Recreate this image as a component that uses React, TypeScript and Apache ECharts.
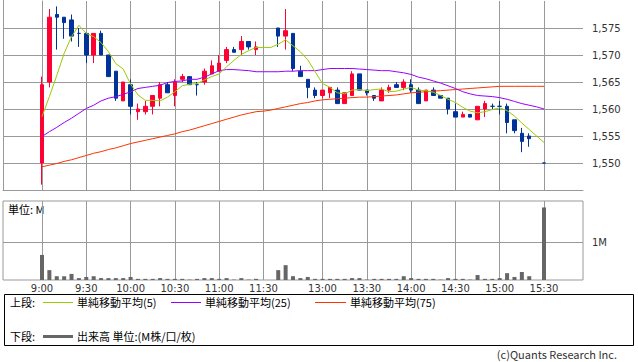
import React, { useEffect, useRef } from "react";
import * as echarts from "echarts";

const times = [
  "9:00","9:05","9:10","9:15","9:20","9:25","9:30","9:35","9:40","9:45",
  "9:50","9:55","10:00","10:05","10:10","10:15","10:20","10:25","10:30","10:35",
  "10:40","10:45","10:50","10:55","11:00","11:05","11:10","11:15","11:20","11:25",
  "11:30","",
  "12:30","12:35","12:40","12:45","12:50","12:55","13:00","13:05",
  "13:10","13:15","13:20","13:25","13:30","13:35","13:40","13:45","13:50","13:55",
  "14:00","14:05","14:10","14:15","14:20","14:25","14:30","14:35","14:40","14:45",
  "14:50","14:55","15:00","15:05","15:10","15:15","15:20","15:25","15:30",
];

const timeTicks = ["9:00","9:30","10:00","10:30","11:00","11:30","13:00","13:30","14:00","14:30","15:00","15:30"];
const priceTicks = [1550, 1555, 1560, 1565, 1570, 1575];
const volumeTicks = [1];

const open = [
  1550,1565,1577.5,1577,1576.5,1574,1574,1570,1574,1570,
  1567,1561.5,1564.5,1559.5,1559.5,1560.5,1562,1564.5,1562.5,1565.5,
  1566,1564.5,1565,1566.5,1567,1569,1571,1571,1572.5,1571,
  null,null,
  1575,1573.5,1574,1567,1565.5,1563.5,1562.5,1563,
  1563.5,1561,1562.5,1566.5,1563.5,1562.5,1561.5,1563.5,1564.5,1564,
  1564.5,1563.5,1561.5,1563.5,1562.5,1562,1559.5,1558.5,1559,1558,
  1560,1560.5,1560.5,1560.5,1558,1555.5,1555,null,1550,
];
const close = [
  1564.5,1577,1577,1576,1573.5,1574,1570,1574,1570,1566,
  1562,1565,1560.5,1560,1560.5,1562.5,1564.5,1563,1565,1566,
  1564.5,1564.5,1567,1568,1568.5,1571,1570.5,1572.5,1571.5,1571.5,
  null,null,
  1573.5,1574.5,1567.5,1566,1564,1562.5,1563.5,1564,
  1561,1563,1566.5,1563.5,1563,1562,1563.5,1564,1564,1565,
  1563.5,1561,1563.5,1562.5,1562,1560,1558.5,1559,1558.5,1560.5,
  1561,1560.5,1560.5,1557.5,1556,1554,1554.5,null,1550,
];
const low = [
  1546,1564,1571,1573,1572.5,1571.5,1568.5,1568.5,1570,1566,
  1561.5,1561.5,1559,1558,1559,1559,1560.5,1563,1560.5,1565,
  1564.5,1562.5,1564.5,1566.5,1567,1568.5,1570.5,1570,1571,1570,
  null,null,
  1571.5,1571,1567,1566,1562,1562,1562,1562,
  1561,1561,1562.5,1563.5,1562.5,1561.5,1561.5,1563,1564,1563.5,
  1563,1561,1561.5,1562.5,1562,1559,1558.5,1558.5,1558.5,1558,
  1558.5,1560,1559,1555.5,1555.5,1552,1553,null,1550,
];
const high = [
  1566,1578.5,1579,1577,1577.5,1575,1574,1574,1574.5,1570,
  1567,1565,1565.5,1561,1561.5,1562.5,1565,1565,1565.5,1566.5,
  1566,1565,1567.5,1569,1570,1571.5,1571.5,1573.5,1572.5,1572.5,
  null,null,
  1575,1578.5,1574,1568,1565.5,1564,1563.5,1564,
  1564,1563,1567,1566.5,1563.5,1562.5,1564,1564.5,1565,1565.5,
  1565.5,1564,1563.5,1564,1562.5,1562,1561,1559.5,1559,1560.5,
  1561.5,1561,1561.5,1561,1558,1556.5,1555.5,null,1550,
];

const volume = [
  0.66,0.26,0.1,0.1,0.16,0.05,0.08,0.1,0.05,0.05,
  0.05,0.05,0.08,0.03,0.03,0.03,0.05,0.03,0.03,0.03,
  0.01,0.03,0.05,0.05,0.03,0.05,0.01,0.05,0.01,0.03,
  null,null,
  0.26,0.39,0.1,0.05,0.08,0.03,0.03,0.03,
  0.03,0.03,0.05,0.05,0.01,0.03,0.03,0.03,0.03,0.1,
  0.05,0.03,0.03,0.03,0.01,0.05,0.03,0.03,0.01,0.13,
  0.03,0.03,0.05,0.18,0.08,0.21,0.1,null,1.91,
];

const ma5 = [
  1558.6,1562.3,1566.2,1570.3,1573.4,1575.5,1574.0,1573.4,1572.3,1570.6,
  1568.4,1567.4,1564.6,1562.6,1561.6,1561.6,1561.5,1562.2,1563.2,1564.3,
  1564.6,1564.7,1565.4,1566.0,1566.5,1567.8,1569.0,1570.1,1570.8,1571.4,
  1571.4,1571.4,1572.0,1572.8,1571.7,1570.6,1569.1,1566.9,1564.7,1564.0,
  1563.0,1562.8,1563.5,1563.6,1563.4,1563.6,1563.7,1563.2,1563.3,1563.7,
  1564.0,1563.5,1563.4,1563.1,1562.5,1561.8,1561.2,1560.3,1559.6,1559.3,
  1559.5,1559.9,1560.2,1559.7,1558.7,1557.4,1556.2,1555.0,1553.8,
];
const ma25 = [
  1554.9,1555.8,1556.6,1557.5,1558.3,1559.2,1560.1,1560.7,1561.5,1562.0,
  1562.3,1562.7,1563.2,1563.8,1564.0,1564.2,1564.4,1564.9,1565.1,1565.2,
  1565.5,1565.5,1565.9,1566.5,1567.1,1567.3,1567.3,1567.2,1567.1,1566.9,
  1566.9,1566.9,1566.9,1567.0,1567.0,1567.1,1567.1,1567.1,1567.3,1567.5,
  1567.5,1567.5,1567.5,1567.4,1567.3,1567.2,1567.1,1567.1,1566.9,1566.7,
  1566.4,1565.9,1565.6,1565.2,1564.8,1564.3,1563.8,1563.2,1562.8,1562.5,
  1562.4,1562.3,1562.1,1561.8,1561.4,1561.0,1560.7,1560.4,1560.0,
];
const ma75 = [
  1549.3,1549.6,1549.9,1550.3,1550.6,1551.0,1551.4,1551.8,1552.1,1552.5,
  1552.8,1553.2,1553.6,1553.9,1554.2,1554.5,1554.8,1555.1,1555.4,1555.8,
  1556.1,1556.5,1556.9,1557.3,1557.7,1558.1,1558.5,1558.9,1559.2,1559.5,
  1559.6,1559.8,1560.1,1560.4,1560.7,1561.0,1561.2,1561.5,1561.7,1561.8,
  1561.9,1562.0,1562.1,1562.2,1562.2,1562.3,1562.4,1562.5,1562.6,1562.8,
  1563.0,1563.1,1563.2,1563.3,1563.4,1563.5,1563.6,1563.7,1563.8,1563.9,
  1564.0,1564.1,1564.2,1564.2,1564.2,1564.2,1564.2,1564.2,1564.2,
];

const GRID = "#999999";
const NUM_FONT = "DejaVu Sans";
const JP_FONT = "'Noto Sans CJK JP', sans-serif";

export default function App() {
  const ref = useRef<HTMLDivElement>(null);
  useEffect(() => {
    if (!ref.current) return;
    const chart = echarts.init(ref.current, null, { renderer: "svg" });

    const candles: number[][] = [];
    const vols: number[][] = [];
    times.forEach((_, i) => {
      if (open[i] != null) candles.push([i, open[i] as number, close[i] as number, low[i] as number, high[i] as number]);
      if (volume[i] != null) vols.push([i, volume[i] as number]);
    });
    const line = (arr: number[]) => arr.map((v, i) => [i, v]);
    const tickIdx = timeTicks.map((t) => times.indexOf(t));

    const pxPerUnit = (544 - 42) / 68;
    const xMin = -(42 - 3) / pxPerUnit;
    const xMax = 68 + (583 - 544) / pxPerUnit;

    const option: any = {
      animation: false,
      backgroundColor: "#ffffff",
      grid: [
        { left: 3, width: 580, top: 1, height: 189, show: false },
        { left: 3, width: 580, top: 201, height: 79, show: true, borderColor: GRID, borderWidth: 1, backgroundColor: "transparent" },
      ],
      xAxis: [
        {
          type: "value", gridIndex: 0, min: xMin, max: xMax,
          axisLine: { show: true, onZero: false, lineStyle: { color: GRID } },
          axisTick: { show: false, customValues: tickIdx },
          axisLabel: { show: false },
          splitLine: { show: true, lineStyle: { color: GRID, width: 1 } },
        },
        {
          type: "value", gridIndex: 1, min: xMin, max: xMax,
          axisLine: { show: false, onZero: false },
          axisTick: { show: false, customValues: tickIdx },
          axisLabel: {
            show: true, customValues: tickIdx, margin: 3,
            formatter: (v: number) => times[Math.round(v)],
            color: "#333", fontSize: 10, fontFamily: NUM_FONT,
          },
          splitLine: { show: true, lineStyle: { color: GRID, width: 1 } },
        },
      ],
      yAxis: [
        {
          type: "value", gridIndex: 0, position: "right", min: 1545, max: 1580,
          axisLine: { show: true, lineStyle: { color: GRID } },
          axisTick: { show: true, length: 5, customValues: priceTicks, lineStyle: { color: GRID } },
          axisLabel: {
            customValues: priceTicks, margin: 9, color: "#333", fontSize: 10, fontFamily: NUM_FONT,
            formatter: (v: number) => v.toLocaleString("en-US"),
          },
          splitLine: { show: true, lineStyle: { color: GRID, width: 1 } },
        },
        {
          type: "value", gridIndex: 1, position: "right", min: 0, max: 2.08,
          axisLine: { show: false },
          axisTick: { show: true, length: 5, customValues: volumeTicks, lineStyle: { color: GRID } },
          axisLabel: {
            customValues: volumeTicks, margin: 9, color: "#333", fontSize: 10, fontFamily: NUM_FONT,
            formatter: (v: number) => v + "M",
          },
          splitLine: { show: true, lineStyle: { color: GRID, width: 1 } },
        },
      ],
      series: [
        {
          type: "candlestick", xAxisIndex: 0, yAxisIndex: 0, data: candles, barWidth: 4,
          itemStyle: {
            color: "#ff0033", color0: "#003399", borderColor: "#ff0033", borderColor0: "#003399",
            borderColorDoji: "#003399", borderWidth: 1,
          },
          z: 3,
        },
        {
          type: "line", xAxisIndex: 0, yAxisIndex: 0, data: line(ma75), showSymbol: false,
          lineStyle: { color: "#ff3300", width: 1 }, z: 4,
        },
        {
          type: "line", xAxisIndex: 0, yAxisIndex: 0, data: line(ma25), showSymbol: false,
          lineStyle: { color: "#9900ff", width: 1 }, z: 4,
        },
        {
          type: "line", xAxisIndex: 0, yAxisIndex: 0, data: line(ma5), showSymbol: false,
          lineStyle: { color: "#99cc00", width: 1 }, z: 4,
        },
        {
          type: "bar", xAxisIndex: 1, yAxisIndex: 1, data: vols, barWidth: 4,
          itemStyle: { color: "#666666" },
        },
      ],
      graphic: [
        { type: "line", shape: { x1: 3.5, y1: 0, x2: 3.5, y2: 190 }, style: { stroke: GRID, lineWidth: 1 } },
        { type: "text", x: 8, y: 209, style: { text: "単位: M", font: `11px ${JP_FONT}`, fill: "#000", verticalAlign: "middle" } },
        { type: "rect", shape: { x: 4.5, y: 294.5, width: 629, height: 51 }, style: { fill: "none", stroke: "#000", lineWidth: 1 } },
        { type: "text", x: 10, y: 302, style: { text: "上段:", font: `11px ${JP_FONT}`, fill: "#000", verticalAlign: "middle" } },
        { type: "line", shape: { x1: 43, y1: 302.5, x2: 73, y2: 302.5 }, style: { stroke: "#99cc00", lineWidth: 1 } },
        { type: "text", x: 77, y: 302, style: { text: "単純移動平均(5)", font: `11px ${JP_FONT}`, fill: "#000", verticalAlign: "middle" } },
        { type: "line", shape: { x1: 171, y1: 302.5, x2: 201, y2: 302.5 }, style: { stroke: "#9900ff", lineWidth: 1 } },
        { type: "text", x: 205, y: 302, style: { text: "単純移動平均(25)", font: `11px ${JP_FONT}`, fill: "#000", verticalAlign: "middle" } },
        { type: "line", shape: { x1: 315, y1: 302.5, x2: 346, y2: 302.5 }, style: { stroke: "#ff3300", lineWidth: 1 } },
        { type: "text", x: 350, y: 302, style: { text: "単純移動平均(75)", font: `11px ${JP_FONT}`, fill: "#000", verticalAlign: "middle" } },
        { type: "text", x: 10, y: 336, style: { text: "下段:", font: `11px ${JP_FONT}`, fill: "#000", verticalAlign: "middle" } },
        { type: "line", shape: { x1: 43, y1: 336.5, x2: 73, y2: 336.5 }, style: { stroke: "#666666", lineWidth: 3 } },
        { type: "text", x: 77, y: 336, style: { text: "出来高 単位:(M株/口/枚)", font: `11px ${JP_FONT}`, fill: "#000", verticalAlign: "middle" } },
        { type: "text", x: 617, y: 354, style: { text: "(c)Quants Research Inc.", font: `11px ${JP_FONT}`, fill: "#333", align: "right", verticalAlign: "middle" } },
      ],
    };
    chart.setOption(option);
    return () => chart.dispose();
  }, []);
  return (
    <div
      ref={ref}
      style={{ position: "fixed", left: 0, top: 0, width: 638, height: 362, background: "#fff" }}
    />
  );
}
